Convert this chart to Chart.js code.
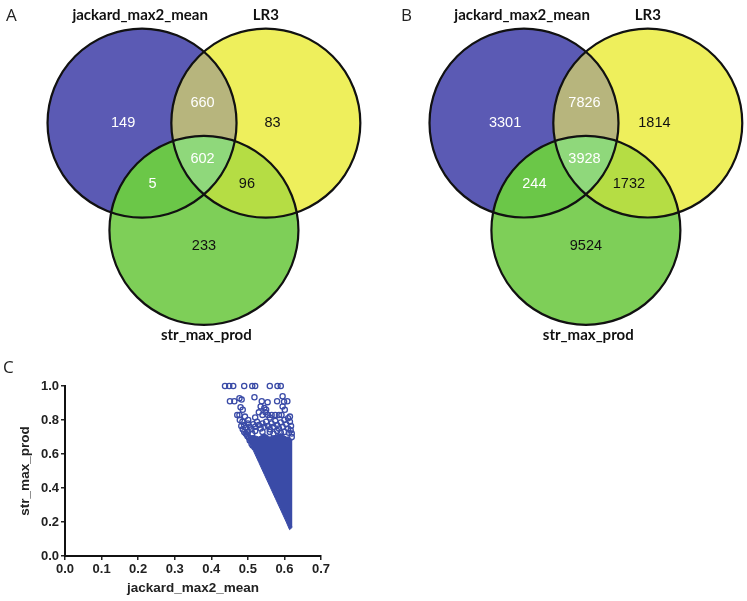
<!DOCTYPE html>
<html><head><meta charset="utf-8">
<script src="https://cdn.jsdelivr.net/npm/chart.js@4.4.1/dist/chart.umd.min.js"></script>
<style>
html,body{margin:0;padding:0;background:#fff;}
body{width:747px;height:601px;position:relative;overflow:hidden;}
.box{position:absolute;}
.letter{position:absolute;font-family:"Open Sans",sans-serif;font-size:17px;color:#222;line-height:1;}
</style></head><body>
<div class="box" style="left:0;top:0;width:373px;height:345px"><canvas id="vennA"></canvas></div>
<div class="box" style="left:373px;top:0;width:374px;height:345px"><canvas id="vennB"></canvas></div>
<div class="box" style="left:0;top:355px;width:360px;height:246px"><canvas id="scat"></canvas></div>
<div class="letter" style="left:6px;top:6px">A</div>
<div class="letter" style="left:401px;top:6px">B</div>
<div class="letter" style="left:3px;top:358px">C</div>
<script>
// ---- Venn data ----
const setNames = ['jackard_max2_mean', 'LR3', 'str_max_prod'];
const regionNames = ['A only', 'A∩B', 'B only', 'A∩B∩C', 'A∩C', 'B∩C', 'C only'];
const countsA = [149, 660, 83, 602, 5, 96, 233];
const countsB = [3301, 7826, 1814, 3928, 244, 1732, 9524];

// diagram layout, in circle-radius units
const circleX = [0, 1.31, 0.655];
const circleY = [0, 0, -1.135];
const circleR = [1, 1, 1];
const labelX = [-0.2, 0.64, 1.38, 0.64, 0.11, 1.11, 0.655];
const labelY = [0, 0.21, 0, -0.38, -0.645, -0.645, -1.30];
const labelColors = ['#ffffff', '#ffffff', '#111111', '#ffffff', '#ffffff', '#111111', '#111111'];
const nameX = [-0.02, 1.31, 0.68];
const nameY = [1.145, 1.145, -2.24];

const setColors = ['#5b5ab4', '#eeef5c', '#7ecf58'];
const pairColors = ['#b7b57d', '#6bc748', '#b5dd44']; // AB, AC, BC
const tripleColor = '#8fd87b';

// ---- Scatter data (panel C) ----
const xTicks = [0.0, 0.1, 0.2, 0.3, 0.4, 0.5, 0.6, 0.7];
const yTicks = [0.0, 0.2, 0.4, 0.6, 0.8, 1.0];
// dense cloud outline: lower and upper edges at shared x positions
const denseX = [0.500, 0.505, 0.515, 0.530, 0.545, 0.560, 0.575, 0.590, 0.605, 0.614, 0.622];
const denseLow = [0.70, 0.67, 0.62, 0.55, 0.48, 0.41, 0.34, 0.27, 0.20, 0.155, 0.17];
const denseHigh = [0.70, 0.70, 0.71, 0.70, 0.72, 0.70, 0.71, 0.72, 0.70, 0.70, 0.68];
// individually visible points
const outX = [0.4375, 0.449, 0.46, 0.49, 0.512, 0.52, 0.56, 0.581, 0.59,
  0.451, 0.463, 0.477, 0.483, 0.518, 0.538, 0.554, 0.58, 0.595, 0.599, 0.608,
  0.48, 0.486, 0.477, 0.471, 0.492, 0.501, 0.535, 0.545, 0.55, 0.54, 0.555, 0.565, 0.575, 0.585, 0.592, 0.595, 0.601, 0.61, 0.615, 0.53, 0.548, 0.56, 0.52,
  0.478, 0.485, 0.49, 0.495, 0.50, 0.505, 0.51, 0.515, 0.52, 0.525, 0.53, 0.535, 0.54, 0.545, 0.55, 0.555, 0.56, 0.565, 0.57, 0.575, 0.58, 0.585, 0.59, 0.595, 0.60, 0.605, 0.61, 0.615, 0.618,
  0.50, 0.52, 0.54, 0.56, 0.58, 0.60, 0.497, 0.49, 0.486, 0.482, 0.505, 0.51, 0.503,
  0.494, 0.499, 0.508, 0.513, 0.518, 0.512, 0.62, 0.62, 0.617, 0.612, 0.57, 0.59];
const outY = [1.0, 1.0, 1.0, 1.0, 1.0, 1.0, 1.0, 1.0, 1.0,
  0.91, 0.91, 0.928, 0.92, 0.934, 0.91, 0.905, 0.91, 0.94, 0.908, 0.91,
  0.875, 0.86, 0.83, 0.83, 0.82, 0.80, 0.88, 0.87, 0.86, 0.83, 0.83, 0.83, 0.83, 0.83, 0.83, 0.88, 0.86, 0.81, 0.82, 0.845, 0.845, 0.815, 0.815,
  0.80, 0.79, 0.77, 0.755, 0.78, 0.76, 0.745, 0.775, 0.76, 0.79, 0.77, 0.75, 0.78, 0.76, 0.79, 0.765, 0.745, 0.78, 0.76, 0.795, 0.77, 0.75, 0.785, 0.76, 0.80, 0.775, 0.75, 0.79, 0.765,
  0.73, 0.735, 0.73, 0.73, 0.735, 0.73, 0.715, 0.73, 0.745, 0.765, 0.68, 0.66, 0.695,
  0.72, 0.705, 0.685, 0.65, 0.64, 0.72, 0.72, 0.70, 0.74, 0.725, 0.72, 0.725];

Chart.defaults.font.family = '"Liberation Sans", Arial, sans-serif';
Chart.defaults.animation = false;

function unitPx(chart) {
  const s = chart.scales.x;
  return s.getPixelForValue(1) - s.getPixelForValue(0);
}

function vennPlugin(counts) {
  return {
    id: 'venn',
    beforeDatasetsDraw(chart) {
      const pts = chart.getDatasetMeta(0).data;
      const ctx = chart.ctx;
      const arc = i => { const p = pts[i]; ctx.beginPath(); ctx.arc(p.x, p.y, p.options.radius, 0, Math.PI * 2); };
      ctx.save();
      for (let i = 0; i < 3; i++) { arc(i); ctx.fillStyle = setColors[i]; ctx.fill(); }
      const pairs = [[0, 1, pairColors[0]], [0, 2, pairColors[1]], [1, 2, pairColors[2]]];
      for (const [a, b, c] of pairs) {
        ctx.save(); arc(a); ctx.clip(); arc(b); ctx.fillStyle = c; ctx.fill(); ctx.restore();
      }
      ctx.save(); arc(0); ctx.clip(); arc(1); ctx.clip(); arc(2); ctx.fillStyle = tripleColor; ctx.fill(); ctx.restore();
      ctx.restore();
    },
    afterDatasetsDraw(chart) {
      const ctx = chart.ctx, xs = chart.scales.x, ys = chart.scales.y;
      ctx.save();
      ctx.textAlign = 'center';
      ctx.textBaseline = 'middle';
      ctx.font = '14.5px "Liberation Sans", Arial, sans-serif';
      counts.forEach((v, i) => {
        ctx.fillStyle = labelColors[i];
        ctx.fillText(String(v), xs.getPixelForValue(labelX[i]), ys.getPixelForValue(labelY[i]));
      });
      ctx.font = 'bold 15px Lato, "Open Sans", sans-serif';
      ctx.fillStyle = '#111';
      setNames.forEach((n, i) => {
        ctx.fillText(n, xs.getPixelForValue(nameX[i]), ys.getPixelForValue(nameY[i]));
      });
      ctx.restore();
    }
  };
}

function makeVenn(id, counts, xmin, xmax, ymin, ymax) {
  return new Chart(document.getElementById(id), {
    type: 'scatter',
    data: {
      datasets: [{
        label: 'sets',
        data: circleX.map((x, i) => ({ x, y: circleY[i] })),
        pointRadius: c => unitPx(c.chart) * circleR[c.dataIndex],
        pointHoverRadius: c => unitPx(c.chart) * circleR[c.dataIndex],
        pointBackgroundColor: 'rgba(0,0,0,0)',
        pointBorderColor: '#111',
        pointBorderWidth: 2.2,
        clip: false
      }]
    },
    options: {
      responsive: true, maintainAspectRatio: false, events: [],
      layout: { padding: 0 },
      plugins: { legend: { display: false }, tooltip: { enabled: false } },
      scales: {
        x: { type: 'linear', display: false, min: xmin, max: xmax },
        y: { type: 'linear', display: false, min: ymin, max: ymax }
      }
    },
    plugins: [vennPlugin(counts)]
  });
}

makeVenn('vennA', countsA, -1.503, 2.444, -2.349, 1.302);
makeVenn('vennB', countsB, -1.598, 2.360, -2.349, 1.302);

// ---- Scatter ----
const blue = '#3a4ba7';
new Chart(document.getElementById('scat'), {
  type: 'scatter',
  data: {
    datasets: [
      { type: 'line', label: 'low', data: denseX.map((x, i) => ({ x, y: denseLow[i] })),
        borderColor: blue, borderWidth: 1, pointRadius: 0, fill: false, tension: 0 },
      { type: 'line', label: 'high', data: denseX.map((x, i) => ({ x, y: denseHigh[i] })),
        borderColor: blue, borderWidth: 1, pointRadius: 0, fill: '-1', backgroundColor: blue, tension: 0 },
      { label: 'points', data: outX.map((x, i) => ({ x, y: outY[i] })),
        pointRadius: 2.6, pointBorderWidth: 1.3, pointBackgroundColor: 'rgba(255,255,255,0)',
        pointBorderColor: blue, clip: false }
    ]
  },
  options: {
    responsive: true, maintainAspectRatio: false, events: [],
    layout: { padding: { top: 31, right: 39, left: 0, bottom: 0 } },
    plugins: { legend: { display: false }, tooltip: { enabled: false } },
    scales: {
      x: {
        type: 'linear', min: xTicks[0], max: xTicks[xTicks.length - 1],
        afterBuildTicks: s => { s.ticks = xTicks.map(v => ({ value: v })); },
        afterFit: s => { s.height = 45; },
        grid: { drawOnChartArea: false, drawTicks: true, tickLength: 4, color: '#222', lineWidth: 1.5 },
        border: { display: true, color: '#111', width: 2 },
        ticks: { callback: v => Number(v).toFixed(1), color: '#222', padding: 2, maxRotation: 0, autoSkip: false,
          font: { size: 13, weight: 'bold' } },
        title: { display: true, text: 'jackard_max2_mean', color: '#222', padding: { top: 0, bottom: 5 },
          font: { size: 13.5, weight: 'bold' } }
      },
      y: {
        type: 'linear', min: yTicks[0], max: yTicks[yTicks.length - 1],
        afterBuildTicks: s => { s.ticks = yTicks.map(v => ({ value: v })); },
        afterFit: s => { s.width = 65; },
        grid: { drawOnChartArea: false, drawTicks: true, tickLength: 4, color: '#222', lineWidth: 1.5 },
        border: { display: true, color: '#111', width: 2 },
        ticks: { callback: v => Number(v).toFixed(1), color: '#222', padding: 2, autoSkip: false,
          font: { size: 13, weight: 'bold' } },
        title: { display: true, text: 'str_max_prod', color: '#222', padding: { top: 17, bottom: 0 },
          font: { size: 13.5, weight: 'bold' } }
      }
    }
  }
});
</script>
</body></html>
